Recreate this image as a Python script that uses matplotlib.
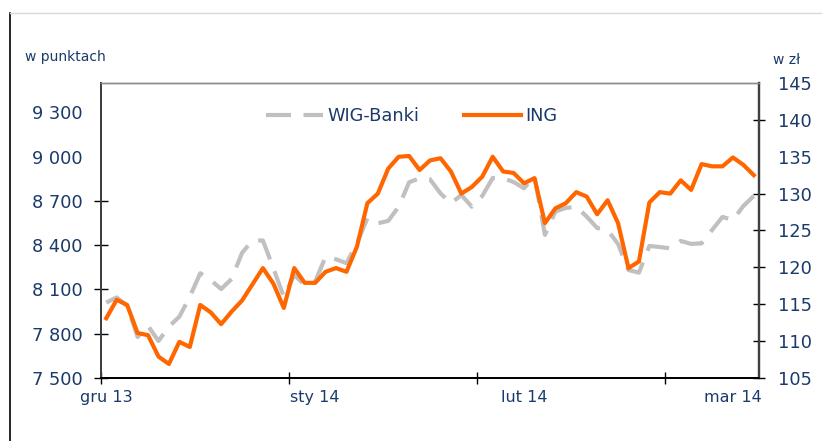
import matplotlib
matplotlib.use("Agg")
import matplotlib.pyplot as plt
from matplotlib.lines import Line2D
from matplotlib.ticker import FuncFormatter

# WIG-Banki (left axis, pts) and ING (right axis, PLN), one value per session
wig_banki = [8011, 8046, 7990, 7778, 7853, 7751, 7848, 7916, 8051, 8210,
             8164, 8103, 8171, 8348, 8432, 8432, 8244, 8051, 8198, 8131,
             8153, 8322, 8305, 8278, 8413, 8583, 8549, 8565, 8661, 8827,
             8854, 8847, 8752, 8684, 8741, 8661, 8734, 8856, 8854, 8829,
             8786, 8870, 8470, 8628, 8653, 8661, 8594, 8517, 8503, 8409,
             8232, 8214, 8395, 8388, 8379, 8429, 8409, 8413, 8503, 8592,
             8571, 8666, 8734]
ing = [113.1, 115.6, 114.9, 111.1, 110.8, 107.9, 106.9, 109.9, 109.2, 114.9,
       113.9, 112.3, 114.0, 115.5, 117.7, 119.9, 117.8, 114.5, 119.9, 117.9,
       117.9, 119.4, 119.9, 119.4, 122.8, 128.7, 130.0, 133.4, 135.0, 135.1,
       133.2, 134.5, 134.8, 133.0, 130.0, 130.9, 132.3, 135.0, 133.0, 132.8,
       131.4, 132.1, 126.0, 128.0, 128.7, 130.2, 129.6, 127.2, 129.1, 126.0,
       119.9, 120.8, 128.8, 130.2, 130.0, 131.8, 130.5, 134.0, 133.7, 133.7,
       134.9, 133.9, 132.5]
month_labels = ['gru 13', 'sty 14', 'lut 14', 'mar 14']
left_ticks = [7500, 7800, 8100, 8400, 8700, 9000, 9300]
right_ticks = [105, 110, 115, 120, 125, 130, 135, 140, 145]

navy = '#1b3a6b'
orange = '#ff6600'
grey = '#c0c0c0'

plt.rcParams['font.family'] = 'DejaVu Sans'

n = len(ing)
x = list(range(n))

fig = plt.figure(figsize=(8.22, 4.41), dpi=100)
ax = fig.add_axes([0.1229, 0.1429, 0.8005, 0.6689])
ax2 = ax.twinx()

l1, = ax.plot(x, wig_banki, color=grey, lw=3, ls=(0, (6, 3)),
              solid_capstyle='butt', label='WIG-Banki')
l2, = ax2.plot(x, ing, color=orange, lw=3, label='ING')

ax.set_xlim(-0.5, n - 0.5)
ax.set_ylim(7500, 9500)
ax2.set_ylim(105, 145)

ax.set_yticks(left_ticks)
ax.yaxis.set_major_formatter(FuncFormatter(lambda v, p: f"{int(v):,}".replace(',', ' ')))
ax2.set_yticks(right_ticks)

# month ticks every 18 sessions, labels every 20 (as in the source chart)
ax.set_xticks([-0.5, 17.5, 35.5, 53.5], labels=[''] * 4)
ax.set_xticks([0, 20, 40, 60], labels=month_labels, minor=True)

ax.tick_params(axis='y', direction='inout', length=9.5, width=1, pad=8.5,
               labelsize=12.8, labelcolor=navy)
ax2.tick_params(axis='y', direction='inout', length=9, width=1, pad=9,
                labelsize=12.8, labelcolor=navy)
ax.tick_params(axis='x', which='major', direction='inout', length=8, width=1)
ax.tick_params(axis='x', which='minor', length=0, pad=9, labelsize=11.5,
               labelcolor=navy)

# no tick marks at the top two levels, as in the original
for t in ax.yaxis.get_major_ticks()[5:]:
    t.tick1line.set_visible(False)
for i in (6, 8):
    ax2.yaxis.get_major_ticks()[i].tick2line.set_visible(False)

for a in (ax, ax2):
    a.spines['top'].set_color('#8c8c8c')
    a.spines['top'].set_linewidth(1)
    a.spines['left'].set_color('#404040')
    a.spines['left'].set_linewidth(1.4)
    a.spines['right'].set_color('#404040')
    a.spines['right'].set_linewidth(1.6)
    a.spines['bottom'].set_color('black')
    a.spines['bottom'].set_linewidth(1.3)

leg = ax.legend([l1, l2], ['WIG-Banki', 'ING'], ncol=2, frameon=False,
                loc='center left', bbox_to_anchor=(266 / 822, 1 - 116 / 441),
                bbox_transform=fig.transFigure, borderpad=0, borderaxespad=0,
                handlelength=3.2, handletextpad=0.25, columnspacing=2.5,
                fontsize=12.8)
for t in leg.get_texts():
    t.set_color(navy)

fig.text(25 / 822, 1 - 57 / 441, 'w punktach', fontsize=10, color=navy,
         ha='left', va='center')
fig.text(773 / 822, 1 - 60 / 441, 'w zł', fontsize=10, color=navy,
         ha='left', va='center')

# outer frame pieces
fig.add_artist(Line2D([9.5 / 822, 9.5 / 822], [0, 1 - 13 / 441],
                      transform=fig.transFigure, color='black', lw=1.2))
fig.add_artist(Line2D([9.5 / 822, 1], [1 - 12.5 / 441, 1 - 12.5 / 441],
                      transform=fig.transFigure, color='#d9d9d9', lw=1))

fig.savefig('out.png', dpi=100)
